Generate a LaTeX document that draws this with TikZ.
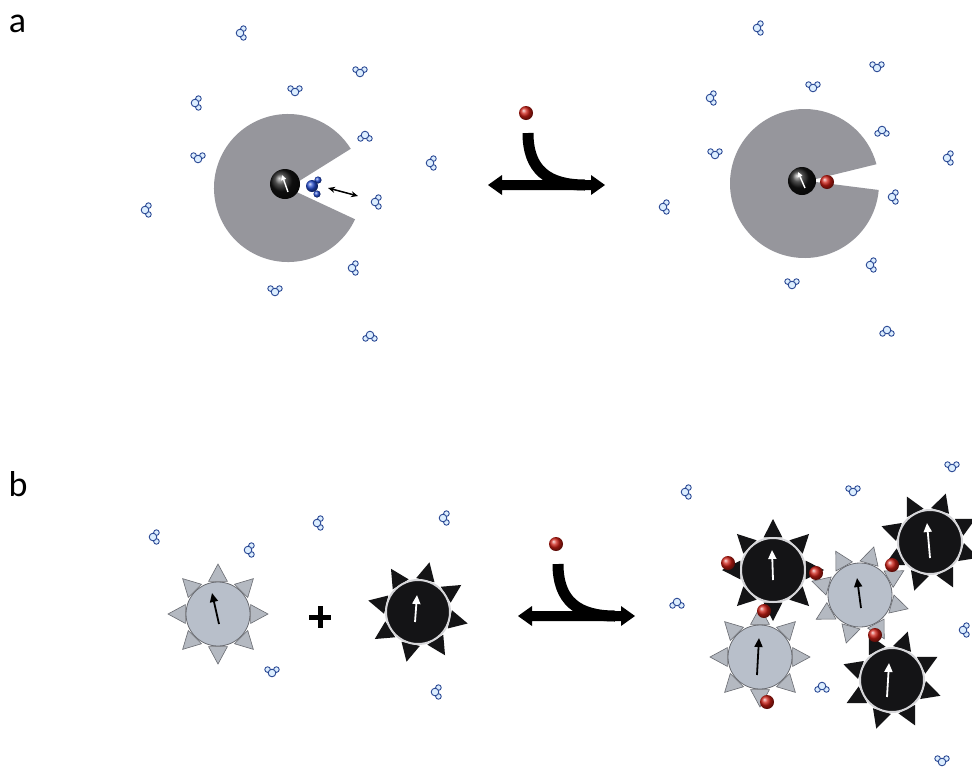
\documentclass[tikz,border=0pt]{standalone}
\usepackage{fontspec}
\setmainfont{Carlito}
\usetikzlibrary{arrows.meta}

\definecolor{pacgray}{RGB}{150,150,156}
\definecolor{lightbody}{RGB}{184,191,202}
\definecolor{lighttooth}{RGB}{180,185,193}
\definecolor{lightedge}{RGB}{105,107,113}
\definecolor{darkbody}{RGB}{20,20,22}
\definecolor{ringgray}{RGB}{215,215,218}
\definecolor{ligred}{RGB}{205,30,20}
\definecolor{waterfill}{RGB}{220,238,255}
\definecolor{wateredge}{RGB}{45,75,150}
\definecolor{solvblue}{RGB}{35,75,205}

\tikzset{
  % one water molecule: oxygen bead with two hydrogen beads
  wbead/.style={fill=waterfill,draw=wateredge,line width=0.9},
  water/.pic={
    \filldraw[wbead] (52:5.6) circle (2.8);
    \filldraw[wbead] (-52:5.6) circle (2.8);
    \filldraw[wbead] (0,0) circle (3.8);
  },
  wc/.style={rotate=0},
  wh/.style={rotate=90},
  wy/.style={rotate=-90},
  redbead/.style={ball color=ligred},
  metalball/.style={ball color=black!92},
  whitearrow/.style={draw=white,line width=1.8,-{Triangle[length=9pt,width=8pt]},fill=white},
  blackarrow/.style={draw=black,line width=1.8,-{Triangle[length=9pt,width=8pt]},fill=black},
  panellabel/.style={font=\fontsize{36}{36}\selectfont,inner sep=0pt},
}

% light gear: x, y, tooth rotation, arrow tail, arrow tip (relative)
\newcommand\lightgear[5]{%
  \begin{scope}[shift={(#1,#2)}]
    \foreach \k in {0,...,7}{
      \pgfmathsetmacro\t{#3+45*\k}
      \filldraw[fill=lighttooth,draw=lightedge,line width=0.6]
        (\t-16:34) -- (\t:50) -- (\t+16:34) -- cycle;
    }
    \filldraw[fill=lightbody,draw=lightedge,line width=0.8] (0,0) circle (32);
    \draw[blackarrow] (#4) -- (#5);
  \end{scope}}

% dark gear: x, y, tooth rotation, arrow tail, arrow tip (relative)
\newcommand\darkgear[5]{%
  \begin{scope}[shift={(#1,#2)}]
    \foreach \k in {0,...,7}{
      \pgfmathsetmacro\t{#3+45*\k}
      \fill[darkbody] (\t-16:34) -- (\t:51) -- (\t+16:34) -- cycle;
    }
    \filldraw[fill=darkbody,draw=ringgray,line width=2] (0,0) circle (32);
    \draw[whitearrow] (#4) -- (#5);
  \end{scope}}

% reaction symbol: ligand entering a double-headed equilibrium arrow
\newcommand\reactsym[2]{%
  \begin{scope}[shift={(#1,#2)}]
    \fill[black] (488,185) -- (502,175) -- (502,180) -- (591,180) -- (591,175)
      -- (605,185) -- (591,195) -- (591,190) -- (502,190) -- (502,195) -- cycle;
    \draw[line width=11] (528,133) .. controls (528,170) and (548,185) .. (585,185);
    \shade[redbead] (526,113) circle (7);
  \end{scope}}

\begin{document}
\begin{tikzpicture}[x=1pt,y=-1pt]
  \useasboundingbox (0,0) rectangle (972,772);
  \fill[white] (0,0) rectangle (972,772);
  \clip (0,0) rectangle (972,772);

  % panel labels
  \node[panellabel] (laba) at (17.5,24) {a};
  \node[panellabel] (labb) at (18,484) {b};

  % ---------- panel a, left: empty pocket with bound solvent ----------
  \fill[pacgray] (288,188) -- ++(25:74) arc[start angle=25,end angle=328,radius=74] -- cycle;
  \shade[metalball] (285,184) circle (15);
  \draw[white,line width=1.4,-{Triangle[length=5pt,width=5pt]}] (288,192) -- (282,175);
  \shade[ball color=solvblue] (318,180) circle (3.6);
  \shade[ball color=solvblue] (317,194) circle (3.6);
  \shade[ball color=solvblue] (312,186) circle (6);
  \coordinate (exin) at (328,188);
  \coordinate (exout) at (358,196);
  \draw[line width=1.5,{Stealth[length=7pt,width=6pt]}-{Stealth[length=7pt,width=6pt]}] (exin) -- (exout);

  \foreach \p/\s in {{240,33}/wc,{360,73}/wh,{295,92}/wh,{195,103}/wc,{365,135}/wy,
                     {198,159}/wh,{430,163}/wc,{145,210}/wc,{375,202}/wc,{352,268}/wc,
                     {275,292}/wh,{370,335}/wy}
    \pic[\s] at (\p) {water};

  % reaction arrow, panel a
  \reactsym{0}{0}

  % ---------- panel a, right: pocket with bound ligand ----------
  \fill[pacgray] (804.5,183.5) ++(5:74.5) arc[start angle=5,end angle=345,radius=74.5] -- (808,181) -- cycle;
  \shade[metalball] (802,181) circle (14);
  \draw[white,line width=1.4,-{Triangle[length=5pt,width=5pt]}] (805,188) -- (798,172);
  \shade[redbead] (827,182) circle (7);

  \foreach \p/\s in {{757,28}/wc,{877,68}/wh,{813,88}/wh,{710,98}/wc,{882,130}/wy,
                     {715,155}/wh,{947,158}/wc,{663,207}/wc,{892,197}/wc,{870,265}/wc,
                     {792,285}/wh,{887,330}/wy}
    \pic[\s] at (\p) {water};

  % ---------- panel b, left: two particle types ----------
  \lightgear{218}{614}{0}{1,10}{-6,-21}
  \darkgear{418}{612}{13}{-3,10}{-1,-17}
  \draw[line width=5] (309,617) -- (331,617);
  \draw[line width=5] (320,606) -- (320,628);

  \foreach \p/\s in {{153,537}/wc,{248,550}/wc,{317,523}/wc,{443,518}/wc,
                     {272,673}/wh,{435,692}/wc}
    \pic[\s] at (\p) {water};

  % reaction arrow, panel b
  \reactsym{30}{431}

  % ---------- panel b, right: ligand-bridged assembly ----------
  \darkgear{930}{542}{18}{0,16}{-3,-19}
  \darkgear{773}{570}{0}{0,10}{-1,-20}
  \lightgear{860}{595}{16}{1,13}{-3,-17}
  \darkgear{892}{680}{18}{-5,17}{-3,-17}
  \lightgear{760}{657}{0}{-3,18}{-1,-19}

  \foreach \p in {{728,563},{816,573},{764,611},{892,565},{875,635},{767,702}}
    \shade[redbead] (\p) circle (7);

  \foreach \p/\s in {{685,492}/wc,{853,492}/wh,{952,468}/wh,{677,602}/wy,
                     {963,630}/wc,{822,686}/wy,{942,762}/wh}
    \pic[\s] at (\p) {water};
\end{tikzpicture}
\end{document}
